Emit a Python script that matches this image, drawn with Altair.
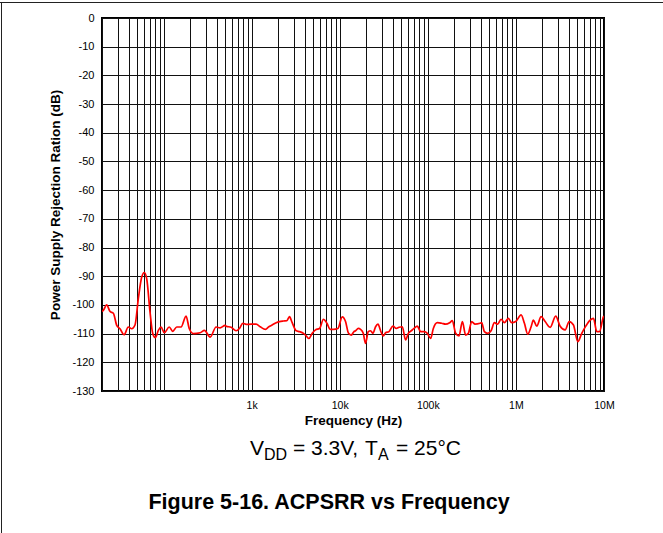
import altair as alt
import pandas as pd

# ---- data ----
freq_hz = [
    20, 20.7, 22.6, 24.7, 26.9, 29.4, 32.0, 35.6, 39.8, 43.5, 47.4, 51.7, 56.5, 60.5, 64.4,
    70.2, 75.4, 80.7, 87.3, 93.6, 102, 116, 127, 141, 158, 180, 196, 218, 260, 291, 338,
    395, 438, 500, 513, 585, 666, 726, 794, 866, 987, 1125, 1249, 1435, 1568, 1709, 1898,
    2069, 2297, 2511, 2688, 2885, 3202, 3491, 3877, 4161, 4466, 4869, 5308, 5893, 6543,
    7152, 7798, 8502, 9537, 10670, 11635, 12587, 13508, 14498, 15117, 16226, 17230, 18492,
    19634, 21076, 22382, 23830, 25513, 27164, 29074, 31206, 33140, 36224, 40220, 43846,
    47059, 51294, 55908, 60015, 64921, 69663, 75955, 82794, 90530, 98700, 107573, 115464,
    128181, 143480, 159280, 176845, 189800, 206900, 226100, 246600, 268800, 288500, 314500,
    343800, 391700, 408600, 438500, 478000, 522400, 569500, 620900, 678700, 739900, 821300,
    895800, 994500, 1145500, 1249000, 1361400, 1487800, 1579800, 1722800, 1933000, 2146400,
    2446400, 2832000, 3177700, 3622400, 4022000, 4502000, 5036000, 5591000, 6209000,
    6966000, 7596000, 8279000, 8886000, 9870000, 10000000,
]
psrr_db = [
    -102.3, -101.9, -100.0, -102.3, -102.9, -107.1, -108.3, -110.4, -107.7, -108.3, -107.0,
    -97.8, -90.3, -88.7, -90.9, -102.5, -110.0, -111.4, -108.9, -107.7, -109.7, -107.7,
    -109.2, -107.7, -107.7, -103.9, -108.3, -110.0, -109.7, -108.9, -111.2, -107.7, -108.0,
    -107.1, -107.4, -107.8, -109.0, -108.2, -106.4, -106.8, -106.7, -106.7, -107.6, -108.5,
    -107.6, -107.0, -106.2, -105.8, -105.6, -105.5, -104.1, -106.2, -109.0, -109.3, -109.9,
    -110.8, -111.7, -109.9, -108.7, -108.2, -105.0, -106.4, -108.5, -108.5, -108.2, -104.2,
    -105.8, -109.9, -110.5, -109.3, -109.0, -108.2, -108.5, -109.9, -113.4, -109.3, -109.0,
    -109.9, -107.6, -106.7, -109.0, -110.8, -109.7, -109.3, -107.4, -108.2, -107.8, -107.6,
    -112.2, -109.9, -109.0, -108.2, -107.4, -109.3, -109.3, -109.9, -111.7, -108.2, -106.2,
    -106.4, -106.7, -106.2, -105.5, -109.9, -110.8, -105.8, -110.5, -109.9, -105.8, -106.7,
    -106.4, -106.2, -109.3, -109.9, -109.0, -106.2, -106.7, -105.0, -106.2, -104.7, -106.2,
    -105.8, -103.5, -106.4, -110.2, -107.6, -105.3, -107.4, -104.1, -105.8, -107.8, -103.9,
    -107.4, -108.7, -105.8, -107.0, -112.8, -109.9, -107.4, -105.3, -104.7, -109.3, -109.3,
    -104.1, -103.9,
]

x_label_values = [1000, 10000, 100000, 1000000, 10000000]
x_label_texts = ["1k", "10k", "100k", "1M", "10M"]
x_grid_values = [m * 10 ** e for e in range(1, 7) for m in range(1, 10) if m * 10 ** e >= 20] + [10 ** 7]
y_tick_values = list(range(-130, 1, 10))

FONT = "Liberation Sans"
W, H = 502, 373
PAD = {"left": 102, "top": 18, "right": 59, "bottom": 142}

df = pd.DataFrame({"f": freq_hz, "db": psrr_db})

label_expr = " : ".join(
    f"round(datum.value) == {v} ? '{t}'" for v, t in zip(x_label_values, x_label_texts)
) + " : ''"

x_enc = alt.X(
    "f:Q",
    scale=alt.Scale(type="log", domain=[20, 10 ** 7], nice=False),
    axis=alt.Axis(
        values=x_grid_values, labelExpr=label_expr, ticks=False, tickSize=0, domain=False,
        grid=True, gridColor="#111111", gridWidth=1, gridOpacity=1,
        labelFont=FONT, labelFontSize=10.5, labelColor="black", labelPadding=9,
        labelFlush=False, labelOverlap=False, labelBound=False,
        title="Frequency (Hz)", titleFont=FONT, titleFontSize=13.5, titleFontWeight="bold",
        titleColor="black", titleY=33, titleBaseline="alphabetic",
    ),
)
y_enc = alt.Y(
    "db:Q",
    scale=alt.Scale(domain=[-130, 0], nice=False),
    axis=alt.Axis(
        values=y_tick_values, labelExpr="'' + datum.value", ticks=False, tickSize=0, domain=False,
        grid=True, gridColor="#111111", gridWidth=1, gridOpacity=1,
        labelFont=FONT, labelFontSize=11, labelColor="black", labelPadding=8,
        labelOverlap=False, labelBound=False, labelFlush=False,
        title="Power Supply Rejection Ration (dB)", titleFont=FONT, titleFontSize=13.5,
        titleFontWeight="bold", titleColor="black", titleAngle=270, titleX=-47,
        titleY=H / 2, titleAlign="center", titleBaseline="middle",
    ),
)

line = alt.Chart(df).mark_line(
    color="#ff0000", strokeWidth=1.7, interpolate="monotone", clip=True
).encode(x=x_enc, y=y_enc)

one = alt.Data(values=[{}])

# annotation text pieces: (text, x, y, size, weight, align)
pieces = [
    ("V", 250 - 102, 455 - 18, 21, "normal", "left"),
    ("DD", 264 - 102, 460 - 18, 16, "normal", "left"),
    ("= 3.3V,", 293 - 102, 455 - 18, 21, "normal", "left"),
    ("T", 365 - 102, 455 - 18, 21, "normal", "left"),
    ("A", 378 - 102, 460 - 18, 16, "normal", "left"),
    ("= 25°C", 396 - 102, 455 - 18, 21, "normal", "left"),
    ("Figure 5-16. ACPSRR vs Frequency", 329 - 102, 509 - 18, 21.5, "bold", "center"),
]
texts = [
    alt.Chart(one).mark_text(
        text=t, font=FONT, fontSize=s, fontWeight=w, align=a, baseline="alphabetic", color="black"
    ).encode(x=alt.value(x), y=alt.value(y))
    for t, x, y, s, w, a in pieces
]

# page frame lines (top and left edges of the figure box)
top_rule = alt.Chart(one).mark_rule(color="#222222", strokeWidth=1).encode(
    x=alt.value(-102), x2=alt.value(663 - 102), y=alt.value(2.5 - 18)
)
left_rule = alt.Chart(one).mark_rule(color="#222222", strokeWidth=1).encode(
    x=alt.value(1.5 - 102), y=alt.value(2 - 18), y2=alt.value(533 - 18)
)

chart = alt.layer(line, *texts, top_rule, left_rule).properties(
    width=W, height=H, padding=PAD, autosize=alt.AutoSizeParams(type="none"),
    background="white",
).configure_view(stroke="black", strokeWidth=2)

chart.save("out.html", embed_options={"renderer": "svg", "actions": False})
